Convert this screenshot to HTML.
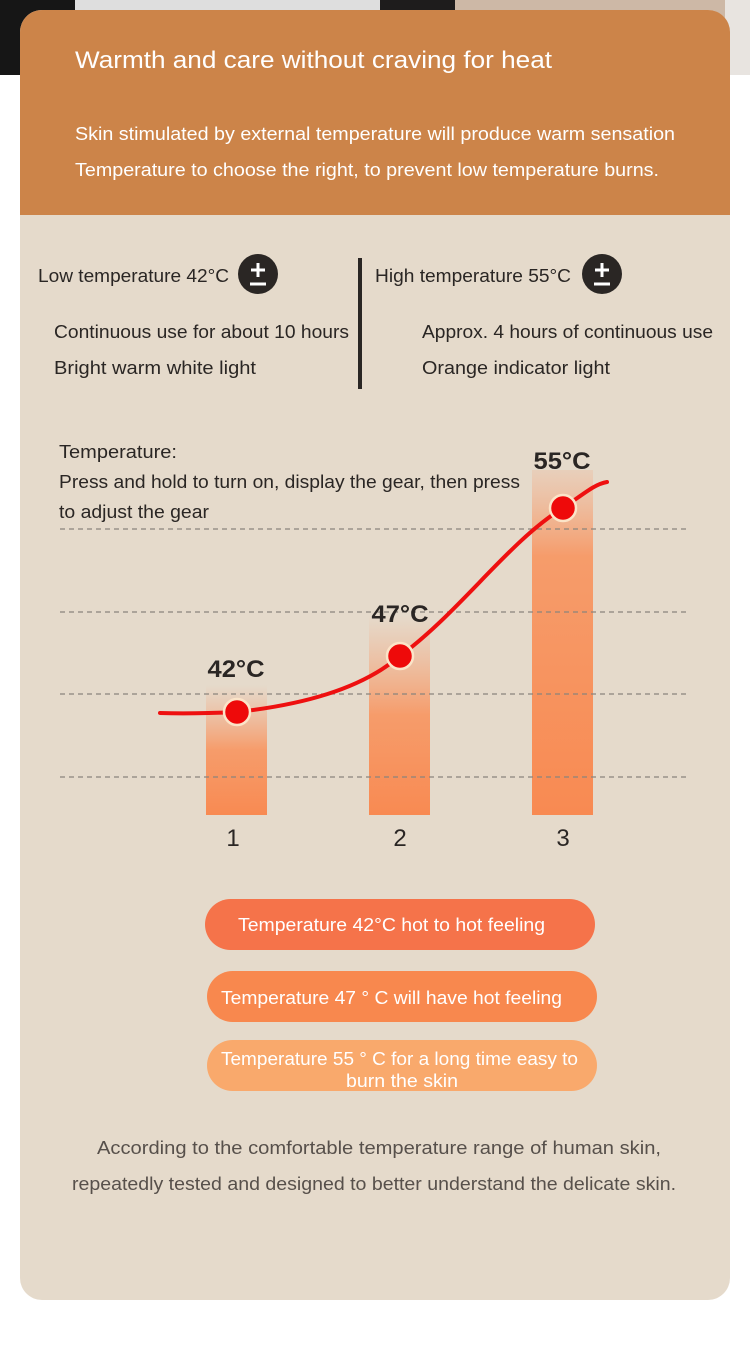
<!DOCTYPE html>
<html><head><meta charset="utf-8"><style>
html,body{margin:0;padding:0;background:#fff;}
svg{display:block;}
text{font-family:"Liberation Sans","DejaVu Sans",sans-serif;}
</style></head><body>
<svg width="750" height="1348" viewBox="0 0 750 1348" xmlns="http://www.w3.org/2000/svg">
<defs>
<linearGradient id="b1" x1="0" y1="0" x2="0" y2="1">
<stop offset="0" stop-color="#f5a47a" stop-opacity="0"/>
<stop offset="0.5" stop-color="#f89560" stop-opacity="0.9"/>
<stop offset="1" stop-color="#f88a52"/>
</linearGradient>
<linearGradient id="b3" x1="0" y1="0" x2="0" y2="1">
<stop offset="0" stop-color="#f5a47a" stop-opacity="0.2"/>
<stop offset="0.25" stop-color="#f89560" stop-opacity="0.9"/>
<stop offset="1" stop-color="#f88a52"/>
</linearGradient>
</defs>
<rect x="0" y="0" width="750" height="1348" fill="#fff"/>
<rect x="0" y="0" width="75" height="75" fill="#161616"/>
<rect x="75" y="0" width="305" height="75" fill="#dedede"/>
<rect x="380" y="0" width="75" height="75" fill="#1e1c1c"/>
<rect x="455" y="0" width="280" height="75" fill="#cdb8a6"/>
<rect x="725" y="0" width="25" height="75" fill="#e8e4e0"/>
<rect x="20" y="10" width="710" height="1290" rx="22" fill="#e5dacb"/>
<path d="M20 215 V32 a22 22 0 0 1 22 -22 H708 a22 22 0 0 1 22 22 V215 Z" fill="#cc8449"/>
<text x="75" y="68" font-size="24" fill="#fff" textLength="477" lengthAdjust="spacingAndGlyphs">Warmth and care without craving for heat</text>
<text x="75" y="140" font-size="18" fill="#fff" textLength="600" lengthAdjust="spacingAndGlyphs">Skin stimulated by external temperature will produce warm sensation</text>
<text x="75" y="176" font-size="18" fill="#fff" textLength="584" lengthAdjust="spacingAndGlyphs">Temperature to choose the right, to prevent low temperature burns.</text>

<g fill="#2a2624">
<text x="38" y="282" font-size="18" textLength="191" lengthAdjust="spacingAndGlyphs">Low temperature 42°C</text>
<text x="375" y="282" font-size="18" textLength="196" lengthAdjust="spacingAndGlyphs">High temperature 55°C</text>
<text x="54" y="338" font-size="18" textLength="295" lengthAdjust="spacingAndGlyphs">Continuous use for about 10 hours</text>
<text x="54" y="374" font-size="18" textLength="202" lengthAdjust="spacingAndGlyphs">Bright warm white light</text>
<text x="422" y="338" font-size="18" textLength="291" lengthAdjust="spacingAndGlyphs">Approx. 4 hours of continuous use</text>
<text x="422" y="374" font-size="18" textLength="188" lengthAdjust="spacingAndGlyphs">Orange indicator light</text>
<rect x="358" y="258" width="4" height="131"/>
<circle cx="258" cy="274" r="20"/>
<circle cx="602" cy="274" r="20"/>
</g>
<g stroke="#fff" stroke-width="3">
<path d="M251 270 H265 M258 263 V277 M250 284 H266"/>
<path d="M595 270 H609 M602 263 V277 M594 284 H610"/>
</g>

<g fill="#2a2624">
<text x="59" y="458" font-size="18" textLength="118" lengthAdjust="spacingAndGlyphs">Temperature:</text>
<text x="59" y="488" font-size="18" textLength="461" lengthAdjust="spacingAndGlyphs">Press and hold to turn on, display the gear, then press</text>
<text x="59" y="518" font-size="18" textLength="150" lengthAdjust="spacingAndGlyphs">to adjust the gear</text>
</g>

<rect x="206" y="685" width="61" height="130" fill="url(#b1)"/>
<rect x="369" y="615" width="61" height="200" fill="url(#b1)"/>
<rect x="532" y="470" width="61" height="345" fill="url(#b3)"/>

<g stroke="#8a847c" stroke-width="1.3" stroke-dasharray="5 4">
<line x1="60" y1="529" x2="690" y2="529"/>
<line x1="60" y1="612" x2="690" y2="612"/>
<line x1="60" y1="694" x2="690" y2="694"/>
<line x1="60" y1="777" x2="690" y2="777"/>
</g>

<path d="M160 713 C190 714 215 713 237 712 C300 705 360 690 400 656 C460 612 510 540 563 508 C585 493 595 484 607 482" fill="none" stroke="#ee1010" stroke-width="4" stroke-linecap="round"/>
<g fill="#ee0a0a" stroke="#fbe4c8" stroke-width="2.5">
<circle cx="237" cy="712" r="13"/>
<circle cx="400" cy="656" r="13"/>
<circle cx="563" cy="508" r="13"/>
</g>

<g fill="#2a2624" font-size="24" font-weight="bold" text-anchor="middle">
<text x="236" y="677" textLength="57" lengthAdjust="spacingAndGlyphs">42°C</text>
<text x="400" y="622" textLength="57" lengthAdjust="spacingAndGlyphs">47°C</text>
<text x="562" y="469" textLength="57" lengthAdjust="spacingAndGlyphs">55°C</text>
</g>
<g fill="#2a2624" font-size="24" text-anchor="middle">
<text x="233" y="846">1</text>
<text x="400" y="846">2</text>
<text x="563" y="846">3</text>
</g>

<rect x="205" y="899" width="390" height="51" rx="25.5" fill="#f5734a"/>
<rect x="207" y="971" width="390" height="51" rx="25.5" fill="#f8884e"/>
<rect x="207" y="1040" width="390" height="51" rx="25.5" fill="#f9a96c"/>
<g fill="#fff" font-size="18">
<text x="238" y="931" textLength="307" lengthAdjust="spacingAndGlyphs">Temperature 42°C hot to hot feeling</text>
<text x="221" y="1004" textLength="341" lengthAdjust="spacingAndGlyphs">Temperature 47 ° C will have hot feeling</text>
<text x="221" y="1065" textLength="357" lengthAdjust="spacingAndGlyphs">Temperature 55 ° C for a long time easy to</text>
<text x="346" y="1087" textLength="112" lengthAdjust="spacingAndGlyphs">burn the skin</text>
</g>

<g fill="#57504b" font-size="18">
<text x="97" y="1154" textLength="564" lengthAdjust="spacingAndGlyphs">According to the comfortable temperature range of human skin,</text>
<text x="72" y="1190" textLength="604" lengthAdjust="spacingAndGlyphs">repeatedly tested and designed to better understand the delicate skin.</text>
</g>
</svg>
</body></html>
